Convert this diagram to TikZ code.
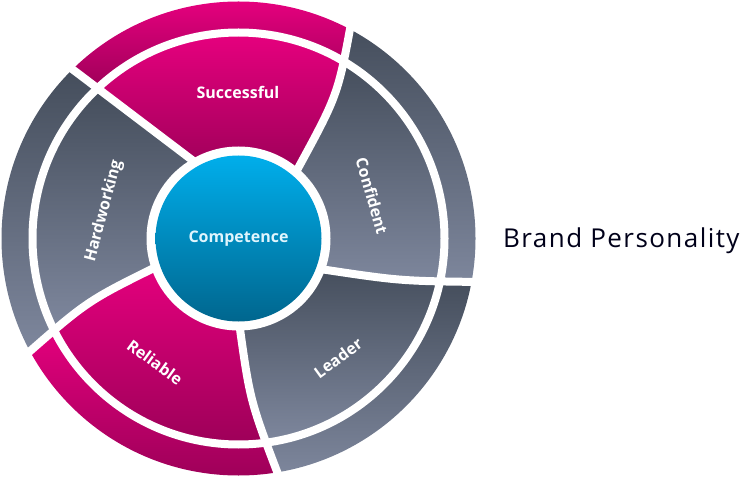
\documentclass[tikz,border=0pt]{standalone}
\usepackage{fontspec}
\setmainfont{Open Sans}
\usepackage{tikz}

\definecolor{magl}{HTML}{E6007E}
\definecolor{magd}{HTML}{9E0059}
\definecolor{gryd}{HTML}{444D5B}
\definecolor{gryl}{HTML}{7E879D}
\definecolor{blut}{HTML}{00AEEB}
\definecolor{blub}{HTML}{00668E}

\tikzset{
  mag/.style={top color=magl,bottom color=magd},
  gry/.style={top color=gryd,bottom color=gryl},
  gap/.style={draw=white,line width=8pt},
  lbl/.style={font=\bfseries\fontsize{16}{18}\selectfont,text=white}
}

\begin{document}
\begin{tikzpicture}[x=1pt,y=-1pt]
\useasboundingbox (0,0) rectangle (744,478);
\path (238.5,238.5) coordinate (c);
\path (200,166) coordinate (b1i) (51,53) coordinate (b1o);
\path (296,172) coordinate (b2i) (338,95) coordinate (b2m) (352,18) coordinate (b2o);
\path (320,269) coordinate (b3i) (400,281) coordinate (b3m) (482,282) coordinate (b3o);
\path (239,322) coordinate (b4i) (250,401) coordinate (b4m) (281,482) coordinate (b4o);
\path (160,265) coordinate (b5i) (87,301) coordinate (b5m) (20,360) coordinate (b5o);

% Successful
\begin{scope}
\clip (c) -- (b2i) .. controls (b2m) .. (b2o) -- (360,-40) -- (40,-40) -- (b1o) -- (b1i) -- cycle;
\clip (c) circle (237pt);
\shade[mag] (0,0) rectangle (480,88);
\clip (c) circle (206pt);
\shade[mag] (0,34) rectangle (480,170);
\end{scope}
% Hardworking
\begin{scope}
\clip (c) -- (b1i) -- (b1o) -- (-40,40) -- (-40,400) -- (b5o) .. controls (b5m) .. (b5i) -- cycle;
\clip (c) circle (237pt);
\shade[gry] (0,66) rectangle (480,352);
\clip (c) circle (206pt);
\shade[gry] (0,86) rectangle (480,328);
\end{scope}
% Reliable
\begin{scope}
\clip (c) -- (b5i) .. controls (b5m) .. (b5o) -- (0,520) -- (290,520) -- (b4o) .. controls (b4m) .. (b4i) -- cycle;
\clip (c) circle (237pt);
\shade[mag] (0,326) rectangle (480,477);
\clip (c) circle (206pt);
\shade[mag] (0,262) rectangle (480,442);
\end{scope}
% Leader
\begin{scope}
\clip (c) -- (b4i) .. controls (b4m) .. (b4o) -- (300,540) -- (540,540) -- (540,290) -- (b3o) .. controls (b3m) .. (b3i) -- cycle;
\clip (c) circle (237pt);
\shade[gry] (0,278) rectangle (480,477);
\clip (c) circle (206pt);
\shade[gry] (0,264) rectangle (480,442);
\end{scope}
% Confident
\begin{scope}
\clip (c) -- (b3i) .. controls (b3m) .. (b3o) -- (540,290) -- (540,-40) -- (360,-40) -- (b2o) .. controls (b2m) .. (b2i) -- cycle;
\clip (c) circle (237pt);
\shade[gry] (0,22) rectangle (480,286);
\clip (c) circle (206pt);
\shade[gry] (0,58) rectangle (480,284);
\end{scope}

\draw[gap] (c) circle (206pt);
\draw[gap] (b1i) -- (b1o);
\draw[gap] (b2i) .. controls (b2m) .. (b2o);
\draw[gap] (b3i) .. controls (b3m) .. (b3o);
\draw[gap] (b4i) .. controls (b4m) .. (b4o);
\draw[gap] (b5i) .. controls (b5m) .. (b5o);
\fill[white] (c) circle (92pt);
\shade[top color=blut,bottom color=blub] (c) circle (83pt);

\path (238,92) node (successful) [lbl] {Successful};
\path (372,196) node (confident) [lbl,rotate=-74] {Confident};
\path (338,358) node (leader) [lbl,rotate=36] {Leader};
\path (155,362) node (reliable) [lbl,rotate=-36] {Reliable};
\path (104,211) node (hardworking) [lbl,rotate=75] {Hardworking};
\path (238.5,238.5) node (competence) [lbl,text=blut!12!white] {Competence};
\path (503,247.3) node (brand) [anchor=base west,inner sep=0pt,font=\fontsize{26}{30}\selectfont\addfontfeatures{LetterSpace=5.5},text=black!90!blue] {Brand Personality};
\end{tikzpicture}
\end{document}
